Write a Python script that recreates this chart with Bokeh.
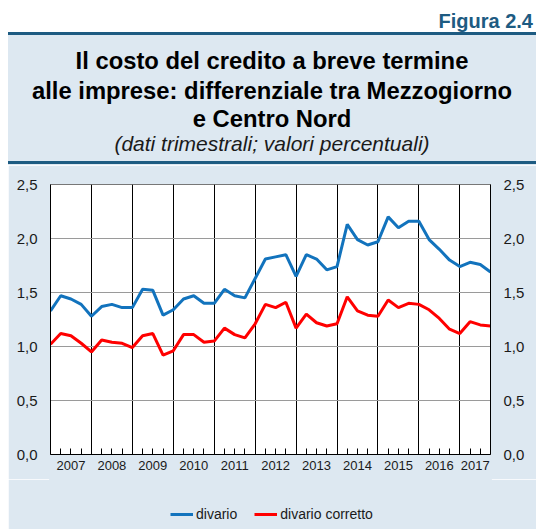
from bokeh.plotting import figure
from bokeh.models import (LinearAxis, FixedTicker, CustomJSTickFormatter, Range1d,
                          Legend, Div)
from bokeh.layouts import column
from bokeh.embed import file_html
from bokeh.resources import INLINE

# ---- data ----
quarters = [f"{y}Q{q}" for y in range(2006, 2018) for q in range(1, 5)]
quarters = quarters[3:3 + 44]  # 2006Q4 .. 2017Q3
divario = [1.33, 1.47, 1.44, 1.39, 1.28, 1.37, 1.39, 1.36, 1.36, 1.53, 1.52, 1.29,
           1.34, 1.44, 1.47, 1.40, 1.40, 1.53, 1.47, 1.45, 1.63, 1.81, 1.83, 1.85,
           1.65, 1.85, 1.81, 1.71, 1.74, 2.13, 1.99, 1.94, 1.97, 2.20, 2.10, 2.16,
           2.16, 1.99, 1.90, 1.80, 1.74, 1.78, 1.76, 1.69]
divario_corretto = [1.02, 1.12, 1.10, 1.03, 0.95, 1.06, 1.04, 1.03, 0.99, 1.10, 1.12, 0.92,
                    0.96, 1.11, 1.11, 1.04, 1.05, 1.17, 1.11, 1.08, 1.21, 1.39, 1.36, 1.41,
                    1.17, 1.30, 1.22, 1.19, 1.21, 1.46, 1.33, 1.29, 1.28, 1.43, 1.36, 1.40,
                    1.39, 1.34, 1.26, 1.16, 1.12, 1.23, 1.20, 1.19]
series_names = ["divario", "divario corretto"]
series_colors = ["#1273bd", "#ff0000"]
year_labels = [str(y) for y in range(2007, 2018)]
y_ticks = [0.0, 0.5, 1.0, 1.5, 2.0, 2.5]

title_lines = ["Il costo del credito a breve termine",
               "alle imprese: differenziale tra Mezzogiorno",
               "e Centro Nord"]
subtitle = "(dati trimestrali; valori percentuali)"
fig_label = "Figura 2.4"

# x position of each quarter = end of quarter
xq = [int(s[:4]) + int(s[5]) / 4 for s in quarters]
x0, x1 = xq[0], xq[-1]
series = [divario, divario_corretto]

FONT = "Liberation Sans"
PANEL = "#dde8f1"
DARK = "#1d5b82"
TXT = "#1a1a1a"

# ---- header (figure label + title block) ----
def line_div(txt, top, size, weight="bold", style="normal", ls=0.0, color="#000",
             align="center", right=None):
    pos = "left:8px;width:528px;" if right is None else f"right:{right}px;"
    return (f'<div style="position:absolute;{pos}top:{top}px;font-family:\'{FONT}\';'
            f'font-size:{size}px;line-height:{size}px;font-weight:{weight};'
            f'font-style:{style};letter-spacing:{ls}px;color:{color};'
            f'text-align:{align};white-space:nowrap;">{txt}</div>')

header_html = (
    '<div style="position:relative;width:536px;height:165px;background:white;margin:0;">'
    f'<div style="position:absolute;left:8px;top:32px;width:528px;height:3px;background:{DARK};"></div>'
    f'<div style="position:absolute;left:8px;top:35px;width:528px;height:130px;background:{PANEL};"></div>'
    f'<div style="position:absolute;left:8px;top:161px;width:528px;height:3px;background:{DARK};"></div>'
    + line_div(fig_label, 11.1, 20, color=DARK, align="right", right=3)
    + line_div(title_lines[0], 49.0, 23.8)
    + line_div(title_lines[1], 78.6, 23.8)
    + line_div(title_lines[2], 106.6, 23.8)
    + line_div(subtitle, 132.8, 21, weight="normal", style="italic", color=TXT)
    + '</div>'
)
header = Div(text=header_html, width=536, height=165, margin=(0, 0, 0, 0))

# ---- chart ----
H1 = 314
p = figure(width=528, height=H1, x_range=Range1d(x0, x1), y_range=Range1d(0, 2.5),
           output_backend="svg", toolbar_location=None, title=None,
           x_axis_location=None, y_axis_location=None,
           min_border_left=42, min_border_right=46, min_border_top=19,
           min_border_bottom=25, background_fill_color="white",
           border_fill_color=PANEL, outline_line_color="#777777",
           margin=(0, 0, 0, 8))

fmt_y = CustomJSTickFormatter(code="return tick.toFixed(1).replace('.', ',');")
for side in ("left", "right"):
    ax = LinearAxis(ticker=FixedTicker(ticks=y_ticks), formatter=fmt_y,
                    major_tick_in=0, major_tick_out=0, minor_tick_line_color=None,
                    axis_line_color="black", major_label_standoff=13,
                    major_label_text_font=FONT, major_label_text_font_size="15px",
                    major_label_text_color=TXT)
    p.add_layout(ax, side)

# bottom axis: year labels centred on each year, quarter ticks as minor ticks
year_centres = [(max(int(y), x0) + min(int(y) + 1, x1)) / 2 for y in year_labels]
ax_x = LinearAxis(ticker=FixedTicker(ticks=year_centres, minor_ticks=xq[1:-1]),
                  formatter=CustomJSTickFormatter(code="return String(Math.floor(tick));"),
                  major_tick_in=0, major_tick_out=0, major_tick_line_color=None,
                  minor_tick_in=6, minor_tick_out=0, minor_tick_line_color="black",
                  axis_line_color="black", major_label_standoff=6,
                  major_label_text_font=FONT, major_label_text_font_size="13px",
                  major_label_text_color=TXT)
p.add_layout(ax_x, "below")

p.xgrid.ticker = FixedTicker(ticks=[int(y) for y in year_labels[1:]])
p.xgrid.grid_line_color = "black"
p.ygrid.ticker = FixedTicker(ticks=y_ticks)
p.ygrid.grid_line_color = "#9a9a9a"

for vals, col in zip(series, series_colors):
    p.line(xq, vals, line_color=col, line_width=3)

# ---- legend strip below the chart (same series, outside its visible range) ----
p2 = figure(width=528, height=529 - 165 - H1, output_backend="svg",
            x_range=Range1d(x0, x1), y_range=Range1d(-2, -1),
            toolbar_location=None, title=None, x_axis_location=None,
            y_axis_location=None, min_border=0, outline_line_color=PANEL,
            outline_line_width=3, background_fill_color=PANEL,
            border_fill_color=PANEL, margin=(0, 0, 0, 8))
p2.grid.visible = False
leg_r = [p2.line(xq, vals, line_color=c, line_width=3)
         for vals, c in zip(series, series_colors)]
legend = Legend(items=[(n, [r]) for n, r in zip(series_names, leg_r)],
                orientation="horizontal", location=(120, 7),
                background_fill_alpha=0, border_line_color=None,
                label_text_font=FONT, label_text_font_size="14px",
                label_text_color=TXT, glyph_width=23, glyph_height=14,
                label_height=14, label_standoff=3, spacing=17, padding=0, margin=0)
p2.add_layout(legend)

layout = column(header, p, p2, spacing=0)
open("out.html", "w").write(file_html(layout, INLINE))
